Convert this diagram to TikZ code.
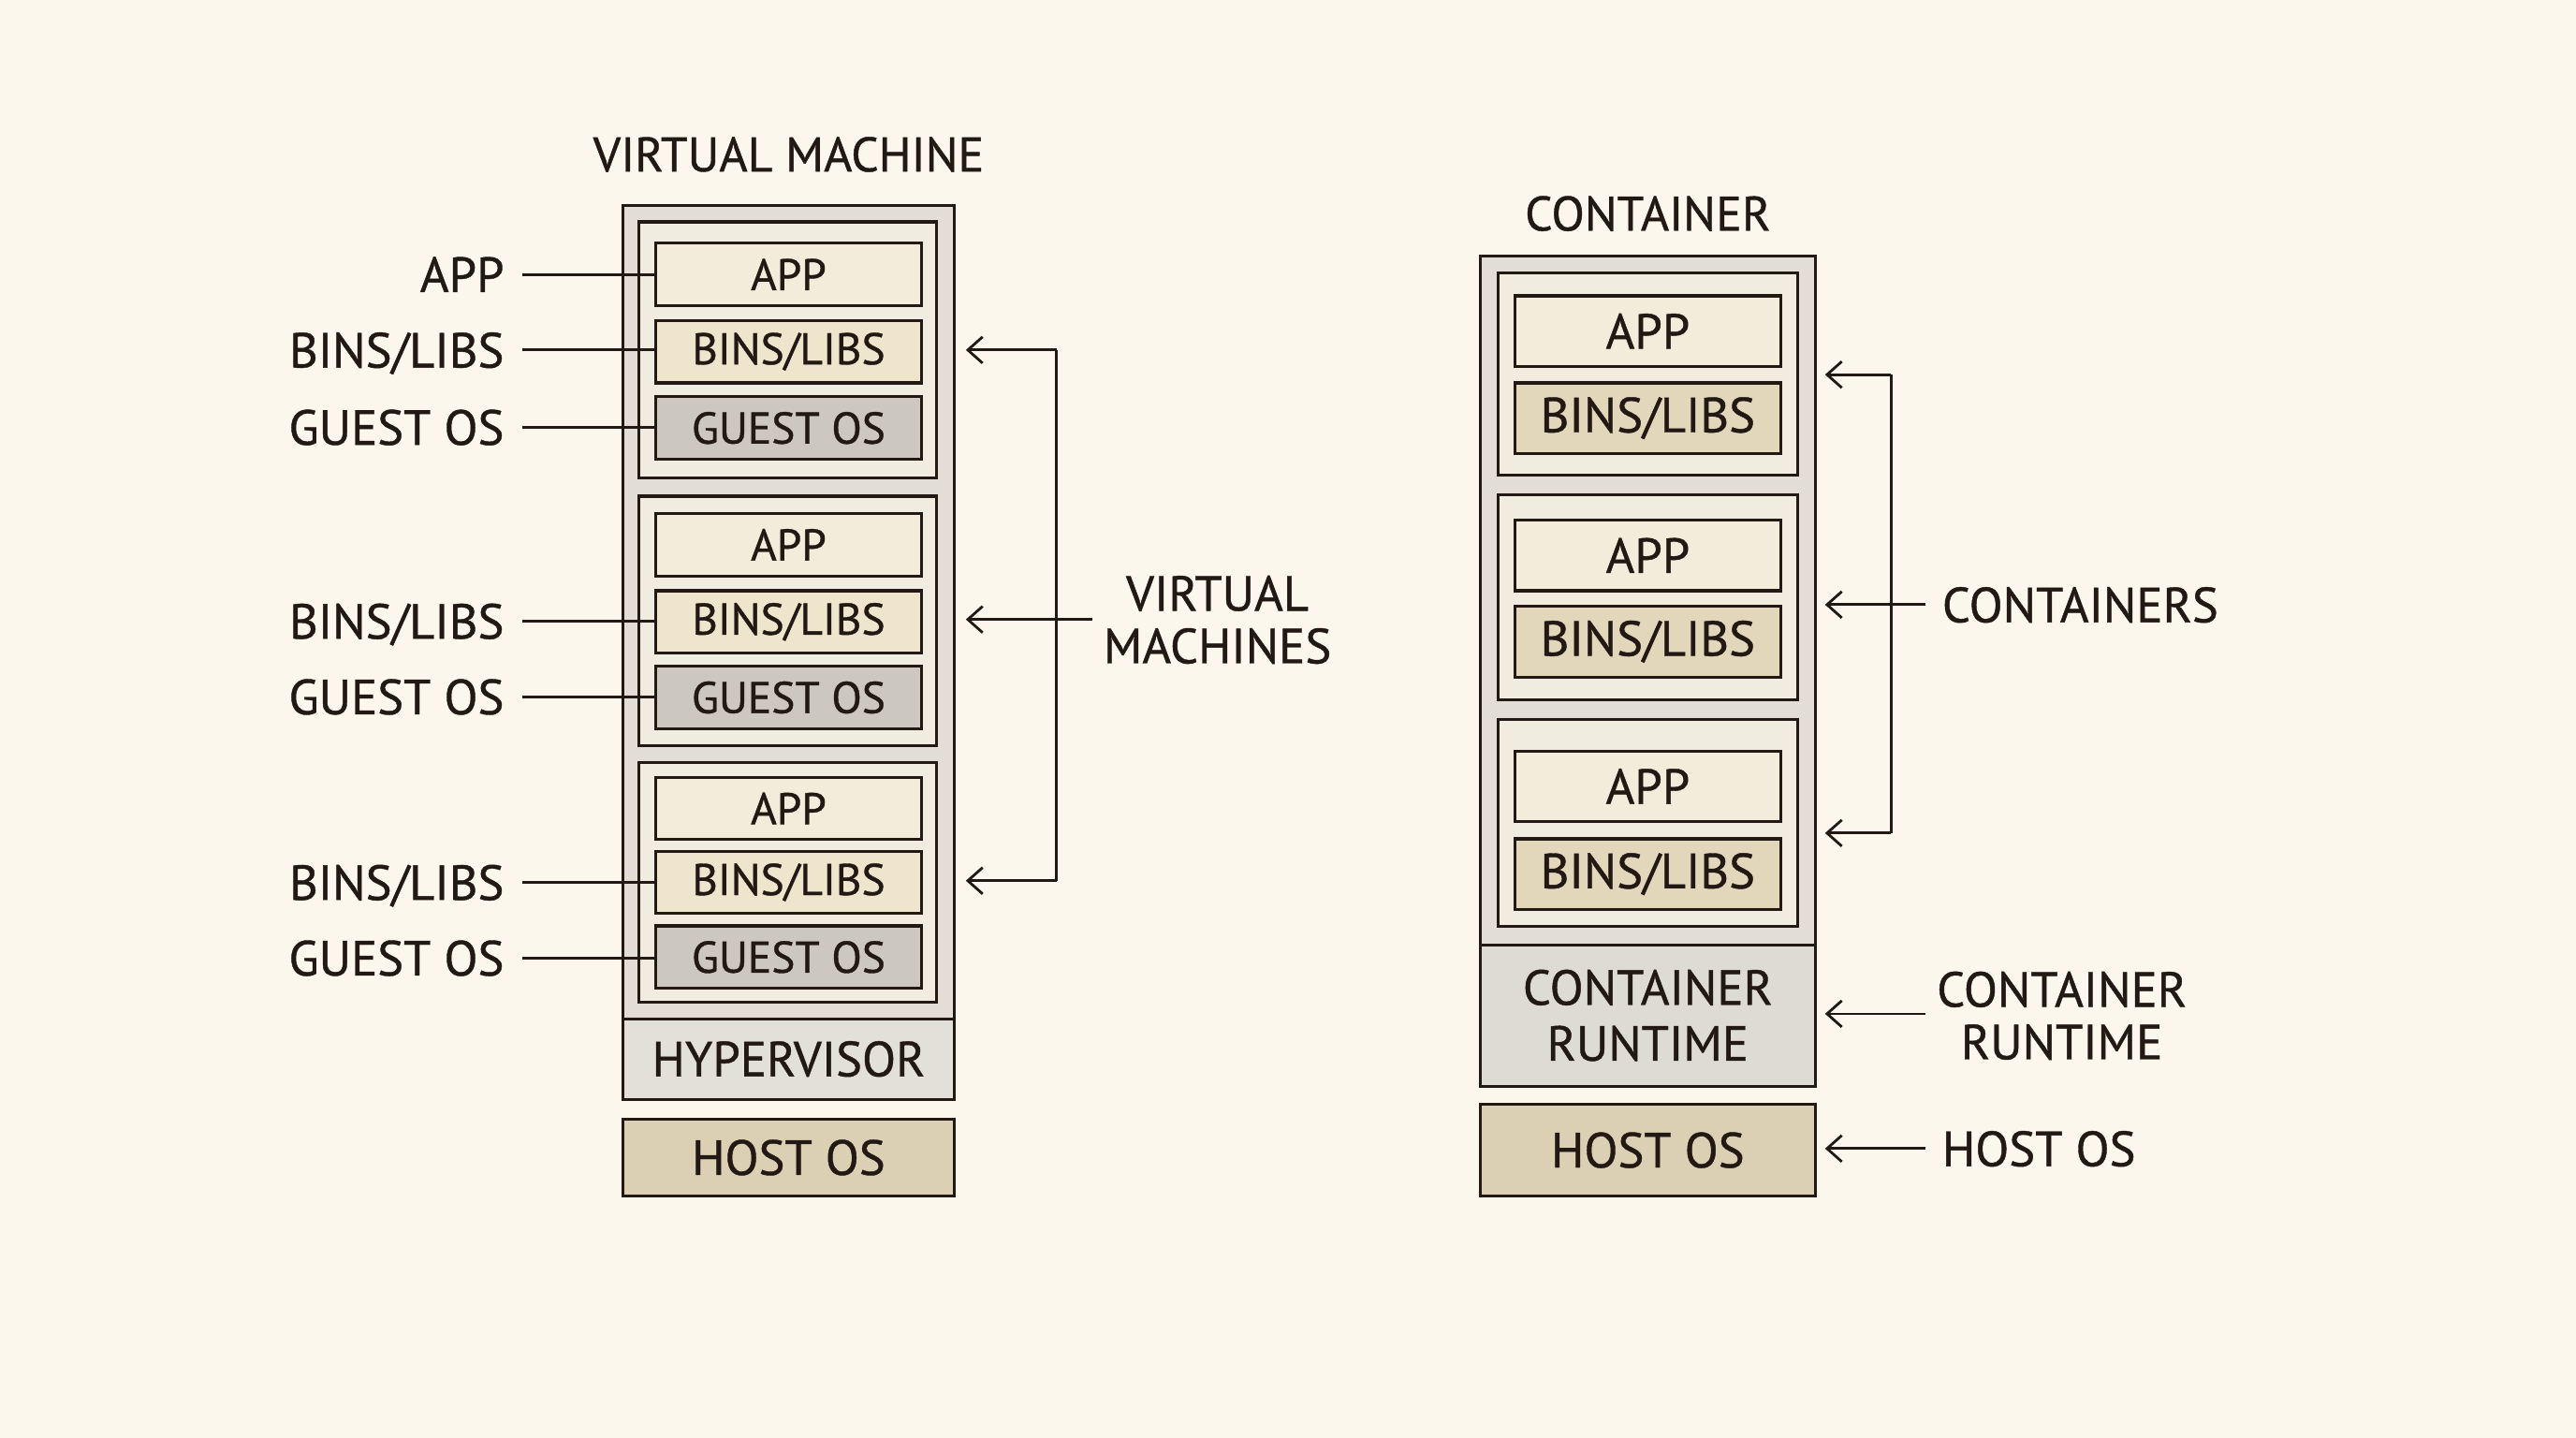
\documentclass[tikz,border=0pt]{standalone}
\usepackage{fontspec}
\setmainfont{PT Sans}[FakeBold=0.6]
\newfontfamily\medfont{PT Sans}[FakeBold=0.8]
\usetikzlibrary{arrows.meta}
\definecolor{bg}{HTML}{FBF7EC}
\definecolor{ink}{HTML}{231914}
\definecolor{outergrey}{HTML}{E2DED6}
\definecolor{groupcream}{HTML}{F1ECE0}
\definecolor{appfill}{HTML}{F3ECDA}
\definecolor{binsvm}{HTML}{EFE5CD}
\definecolor{guestfill}{HTML}{CCC8C0}
\definecolor{hypfill}{HTML}{E3E0DA}
\definecolor{hostfill}{HTML}{DCD0B4}
\definecolor{binsct}{HTML}{E2D6BB}
\definecolor{rtfill}{HTML}{DEDBD5}
\tikzset{
  box/.style={draw=ink, line width=1.8pt, rectangle, inner sep=0pt, text=ink},
  vmtext/.style={font=\medfont\fontsize{27}{32}\selectfont},
  cttext/.style={font=\medfont\fontsize{30}{34}\selectfont},
  lbl/.style={text=ink, font=\medfont\fontsize{30}{34}\selectfont, inner sep=0pt, text depth=0pt},
  ttl/.style={text=ink, font=\medfont\fontsize{29.5}{32}\selectfont, inner sep=0pt},
  conn/.style={draw=ink, line width=1.6pt},
  arr/.style={draw=ink, line width=1.6pt, -{Straight Barb[length=9pt,width=16pt,line width=1.6pt]}}
}
\begin{document}
\begin{tikzpicture}[x=1pt,y=-1pt]
\fill[bg] (0,0) rectangle (1568,875);
\useasboundingbox (0,0) rectangle (1568,875);

% ---------------- Virtual machine side ----------------
\node[ttl] (vmtitle) at (480,94) {VIRTUAL MACHINE};
\node[box, fill=outergrey, minimum width=202pt, minimum height=495pt] (vmout) at (480,372.5) {};
\node[box, fill=groupcream, minimum width=181pt, minimum height=156pt] (vg1) at (479.5,213) {};
\node[box, fill=groupcream, minimum width=181pt, minimum height=152pt] (vg2) at (479.5,378) {};
\node[box, fill=groupcream, minimum width=181pt, minimum height=146pt] (vg3) at (479.5,537) {};

\node[box, vmtext, fill=appfill, minimum width=162pt, minimum height=38pt] (va1) at (480,167) {APP};
\node[box, vmtext, fill=binsvm, minimum width=162pt, minimum height=38pt] (vb1) at (480,214) {BINS/LIBS};
\node[box, vmtext, fill=guestfill, minimum width=162pt, minimum height=38pt] (vo1) at (480,260.5) {GUEST OS};

\node[box, vmtext, fill=appfill, minimum width=162pt, minimum height=38pt] (va2) at (480,331.5) {APP};
\node[box, vmtext, fill=binsvm, minimum width=162pt, minimum height=38pt] (vb2) at (480,378.5) {BINS/LIBS};
\node[box, vmtext, fill=guestfill, minimum width=162pt, minimum height=38pt] (vo2) at (480,424.5) {GUEST OS};

\node[box, vmtext, fill=appfill, minimum width=162pt, minimum height=38pt] (va3) at (480,492) {APP};
\node[box, vmtext, fill=binsvm, minimum width=162pt, minimum height=38pt] (vb3) at (480,537) {BINS/LIBS};
\node[box, vmtext, fill=guestfill, minimum width=162pt, minimum height=38pt] (vo3) at (480,582.5) {GUEST OS};

\node[box, cttext, fill=hypfill, minimum width=202pt, minimum height=49pt] (hyp) at (480,644.5) {HYPERVISOR};
\node[box, cttext, fill=hostfill, minimum width=202pt, minimum height=47pt] (vhost) at (480,704.5) {HOST OS};

% left labels
\node[lbl, anchor=east] (la1) at (307,167) {APP};
\node[lbl, anchor=east] (lb1) at (307,213) {BINS/LIBS};
\node[lbl, anchor=east] (lo1) at (307,260) {GUEST OS};
\node[lbl, anchor=east] (lb2) at (307,378) {BINS/LIBS};
\node[lbl, anchor=east] (lo2) at (307,424) {GUEST OS};
\node[lbl, anchor=east] (lb3) at (307,537) {BINS/LIBS};
\node[lbl, anchor=east] (lo3) at (307,583) {GUEST OS};
\draw[conn] ([xshift=11pt]la1.east) -- (va1.west |- la1.east);
\draw[conn] ([xshift=11pt]lb1.east) -- (vb1.west |- lb1.east);
\draw[conn] ([xshift=11pt]lo1.east) -- (vo1.west |- lo1.east);
\draw[conn] ([xshift=11pt]lb2.east) -- (vb2.west |- lb2.east);
\draw[conn] ([xshift=11pt]lo2.east) -- (vo2.west |- lo2.east);
\draw[conn] ([xshift=11pt]lb3.east) -- (vb3.west |- lb3.east);
\draw[conn] ([xshift=11pt]lo3.east) -- (vo3.west |- lo3.east);

% bracket VM
\coordinate (vbt) at (643,213);
\coordinate (vbm) at (643,377);
\coordinate (vbb) at (643,536);
\coordinate (vbr) at (665,377);
\draw[conn] (vbt) -- (vbb);
\draw[arr] (vbt) -- ([xshift=6pt]vmout.east |- vbt);
\draw[arr] (vbr) -- ([xshift=6pt]vmout.east |- vbm);
\draw[arr] (vbb) -- ([xshift=6pt]vmout.east |- vbb);
\node[lbl, align=center, font=\medfont\fontsize{30}{32}\selectfont] (vmlabel) at (741,377) {VIRTUAL\\MACHINES};

% ---------------- Container side ----------------
\node[ttl] (cttitle) at (1003,130) {CONTAINER};
\node[box, fill=outergrey, minimum width=204pt, minimum height=419pt] (ctout) at (1003,365.5) {};
\node[box, fill=groupcream, minimum width=182pt, minimum height=123pt] (cg1) at (1003,227.5) {};
\node[box, fill=groupcream, minimum width=182pt, minimum height=125pt] (cg2) at (1003,363.5) {};
\node[box, fill=groupcream, minimum width=182pt, minimum height=126pt] (cg3) at (1003,501) {};

\node[box, cttext, fill=appfill, minimum width=162pt, minimum height=43pt] (ca1) at (1003,201.5) {APP};
\node[box, cttext, fill=binsct, minimum width=162pt, minimum height=43pt] (cb1) at (1003,254.5) {BINS/LIBS};
\node[box, cttext, fill=appfill, minimum width=162pt, minimum height=43pt] (ca2) at (1003,338) {APP};
\node[box, cttext, fill=binsct, minimum width=162pt, minimum height=43pt] (cb2) at (1003,390.5) {BINS/LIBS};
\node[box, cttext, fill=appfill, minimum width=162pt, minimum height=43pt] (ca3) at (1003,478.5) {APP};
\node[box, cttext, fill=binsct, minimum width=162pt, minimum height=43pt] (cb3) at (1003,532) {BINS/LIBS};

\node[box, cttext, fill=rtfill, minimum width=204pt, minimum height=86pt, align=center] (crt) at (1003,618) {CONTAINER\\RUNTIME};
\node[box, cttext, fill=hostfill, minimum width=204pt, minimum height=56pt] (chost) at (1003,700) {HOST OS};

% bracket containers
\coordinate (cbt) at (1151,228);
\coordinate (cbm) at (1151,368);
\coordinate (cbb) at (1151,507);
\coordinate (cbr) at (1172,368);
\draw[conn] (cbt) -- (cbb);
\draw[arr] (cbt) -- ([xshift=5pt]ctout.east |- cbt);
\draw[arr] (cbr) -- ([xshift=5pt]ctout.east |- cbm);
\draw[arr] (cbb) -- ([xshift=5pt]ctout.east |- cbb);
\node[lbl, anchor=west] (ctlabel) at (1182,368) {CONTAINERS};

\coordinate (crtl) at (1172,617);
\draw[arr] (crtl) -- ([xshift=5pt]crt.east |- crtl);
\node[lbl, align=center, font=\medfont\fontsize{30}{32}\selectfont] (crtlabel) at (1255,618) {CONTAINER\\RUNTIME};

\coordinate (chl) at (1172,699);
\draw[arr] (chl) -- ([xshift=5pt]chost.east |- chl);
\node[lbl, anchor=west] (chlabel) at (1182,699) {HOST OS};
\end{tikzpicture}
\end{document}
